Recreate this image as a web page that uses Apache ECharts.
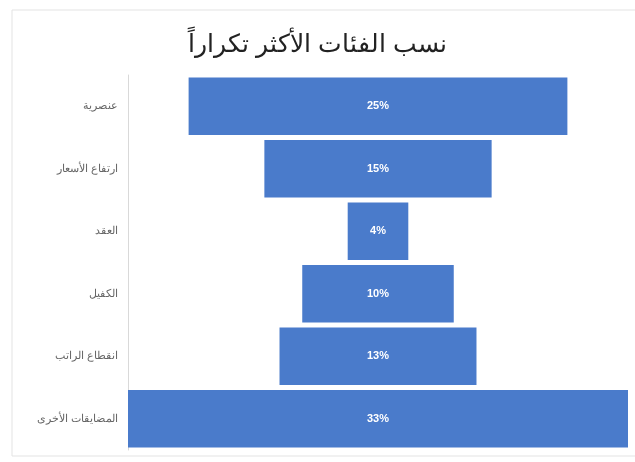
<!DOCTYPE html>
<html><head><meta charset="utf-8">
<script src="https://cdn.jsdelivr.net/npm/echarts@6/dist/echarts.min.js"></script>
<style>html,body{margin:0;padding:0;background:#fff}#c{width:635px;height:462px}</style>
</head><body><div id="c"></div>
<script>
var categories = ["عنصرية", "ارتفاع الأسعار", "العقد", "الكفيل", "انقطاع الراتب", "المضايقات الأخرى"];
var values = [25, 15, 4, 10, 13, 33];
var titleText = "نسب الفئات الأكثر تكراراً";

var maxV = Math.max.apply(null, values);
var pad = values.map(function (v) { return (maxV - v) / 2; });

var chart = echarts.init(document.getElementById('c'));
chart.setOption({
  animation: false,
  backgroundColor: '#fff',
  title: {
    text: titleText, left: 'center', top: 28,
    textStyle: { fontFamily: 'Liberation Sans, Arial', fontSize: 25, fontWeight: 'normal', color: '#222' }
  },
  grid: { left: 128, right: 7, top: 75, bottom: 12 },
  xAxis: { type: 'value', min: 0, max: maxV, show: false },
  yAxis: {
    type: 'category', data: categories, inverse: true,
    axisLine: { show: true, lineStyle: { color: '#d9d9d9' } },
    axisTick: { show: false },
    axisLabel: { color: '#666', fontSize: 11, fontFamily: 'Liberation Sans, Arial', margin: 10 }
  },
  graphic: [
    { type: 'rect', shape: { x: 12, y: 10, width: 640, height: 446 }, style: { fill: 'none', stroke: '#e3e3e3', lineWidth: 1 }, silent: true }
  ],
  series: [
    { type: 'bar', stack: 'f', data: pad, itemStyle: { color: 'transparent' }, barCategoryGap: '8%', silent: true },
    { type: 'bar', stack: 'f', data: values, barCategoryGap: '8%',
      itemStyle: { color: '#4a7bcb' },
      label: { show: true, position: 'inside', formatter: '{c}%', color: '#fff', fontSize: 11, fontWeight: 'bold', fontFamily: 'Liberation Sans Narrow, Arial' } }
  ]
});
</script></body></html>
